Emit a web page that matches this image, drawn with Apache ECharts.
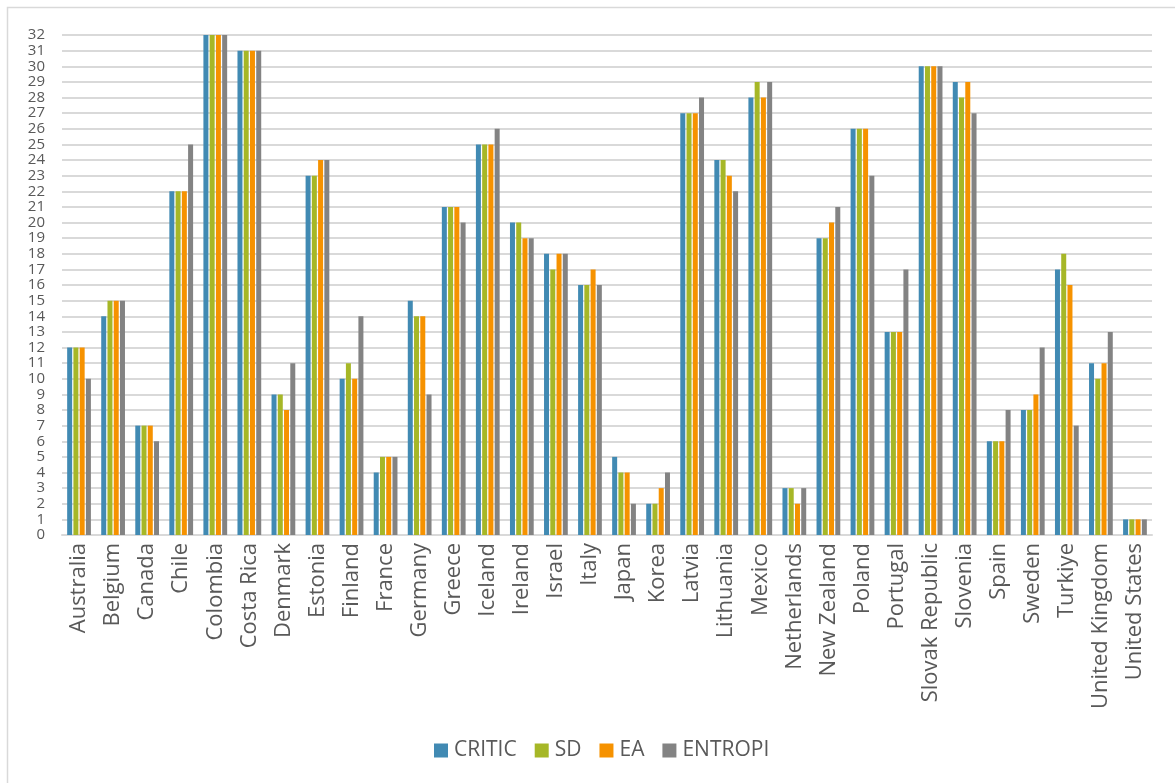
<!DOCTYPE html>
<html>
<head>
<meta charset="utf-8">
<script src="https://cdn.jsdelivr.net/npm/echarts@6/dist/echarts.min.js"></script>
<style>
  html, body { margin: 0; padding: 0; background: #ffffff; }
  #chart { width: 1175px; height: 783px; }
</style>
</head>
<body>
<div id="chart"></div>
<script>
// Country rankings under four weighting methods
const countries = ['Australia', 'Belgium', 'Canada', 'Chile', 'Colombia', 'Costa Rica', 'Denmark', 'Estonia',
  'Finland', 'France', 'Germany', 'Greece', 'Iceland', 'Ireland', 'Israel', 'Italy', 'Japan', 'Korea',
  'Latvia', 'Lithuania', 'Mexico', 'Netherlands', 'New Zealand', 'Poland', 'Portugal', 'Slovak Republic',
  'Slovenia', 'Spain', 'Sweden', 'Turkiye', 'United Kingdom', 'United States'];

const critic  = [12, 14, 7, 22, 32, 31, 9, 23, 10, 4, 15, 21, 25, 20, 18, 16, 5, 2, 27, 24, 28, 3, 19, 26, 13, 30, 29, 6, 8, 17, 11, 1];
const sd      = [12, 15, 7, 22, 32, 31, 9, 23, 11, 5, 14, 21, 25, 20, 17, 16, 4, 2, 27, 24, 29, 3, 19, 26, 13, 30, 28, 6, 8, 18, 10, 1];
const ea      = [12, 15, 7, 22, 32, 31, 8, 24, 10, 5, 14, 21, 25, 19, 18, 17, 4, 3, 27, 23, 28, 2, 20, 26, 13, 30, 29, 6, 9, 16, 11, 1];
const entropi = [10, 15, 6, 25, 32, 31, 11, 24, 14, 5, 9, 20, 26, 19, 18, 16, 2, 4, 28, 22, 29, 3, 21, 23, 17, 30, 27, 8, 12, 7, 13, 1];

const seriesNames = ['CRITIC', 'SD', 'EA', 'ENTROPI'];
const seriesColors = ['#418AB3', '#A6B727', '#F69200', '#838383'];
const seriesData = [critic, sd, ea, entropi];

const chart = echarts.init(document.getElementById('chart'), null, { renderer: 'canvas' });

const font = '"Open Sans", "Noto Sans", sans-serif';

chart.setOption({
  backgroundColor: '#ffffff',
  animation: false,
  textStyle: { fontFamily: font },
  graphic: [{
    type: 'rect',
    shape: { x: 7.5, y: 7.5, width: 1200, height: 800 },
    style: { fill: 'none', stroke: '#d9d9d9', lineWidth: 1.5 },
    silent: true
  }],
  grid: { left: 62, right: 23, top: 35, bottom: 248, containLabel: false },
  legend: {
    data: seriesNames,
    left: 429,
    top: 735,
    itemWidth: 14,
    itemHeight: 14,
    itemGap: 18,
    icon: 'rect',
    textStyle: { fontSize: 21, color: '#595959', fontFamily: font, padding: [0, 0, 0, 1] }
  },
  xAxis: {
    type: 'category',
    data: countries,
    axisLine: { show: true, lineStyle: { color: '#d9d9d9', width: 2 } },
    axisTick: { show: false },
    axisLabel: {
      interval: 0,
      rotate: 90,
      fontSize: 22,
      color: '#595959',
      margin: 8,
      fontFamily: font
    }
  },
  yAxis: {
    type: 'value',
    min: 0,
    max: 32,
    interval: 1,
    axisLine: { show: false },
    axisTick: { show: false },
    axisLabel: { fontSize: 15, color: '#595959', margin: 17, fontFamily: font },
    splitLine: { lineStyle: { color: '#d9d9d9', width: 2 } }
  },
  series: seriesNames.map((name, i) => ({
    name: name,
    type: 'bar',
    data: seriesData[i],
    barWidth: 5,
    barGap: '25%',
    itemStyle: { color: seriesColors[i] }
  }))
});
</script>
</body>
</html>
